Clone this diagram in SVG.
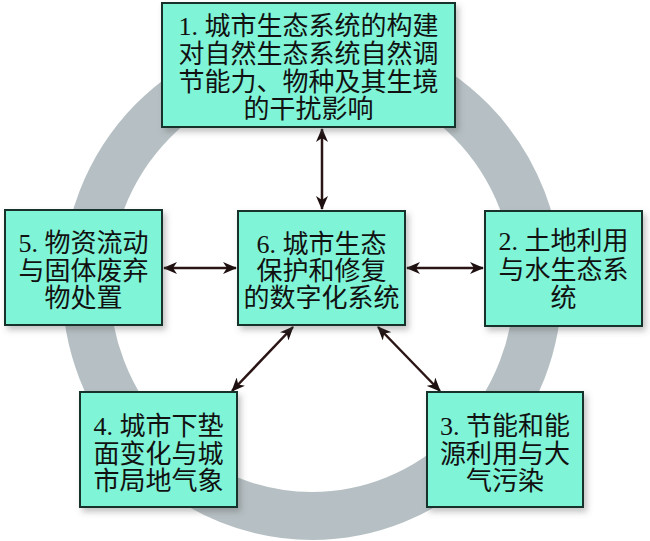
<svg xmlns="http://www.w3.org/2000/svg" width="650" height="541" viewBox="0 0 650 541">
<defs>
<filter id="sh" x="-10%" y="-10%" width="130%" height="130%">
<feDropShadow dx="3" dy="4" stdDeviation="3" flood-color="#555" flood-opacity="0.35"/>
</filter>
<marker id="ah" viewBox="0 0 14 12" refX="13" refY="6" markerWidth="14" markerHeight="12" markerUnits="userSpaceOnUse" orient="auto-start-reverse">
<path d="M0,0 L14,6 L0,12 L4,6 z" fill="#1e1010"/>
</marker>
</defs>
<style>
.box{fill:#7ff4d6;stroke:#17332b;stroke-width:2;filter:url(#sh)}
.t{font-family:"Liberation Serif","Noto Sans CJK SC",serif;font-size:26px;fill:#111;text-anchor:middle}
.c{stroke:#2a1414;stroke-width:2.5;fill:none;marker-start:url(#ah);marker-end:url(#ah)}
</style>
<rect width="650" height="541" fill="#ffffff"/>
<ellipse cx="312" cy="285" rx="226" ry="231" fill="none" stroke="#b6c0c4" stroke-width="48"/>
<g id="connectors">
<line class="c" x1="322" y1="129" x2="322" y2="209"/>
<line class="c" x1="164" y1="268" x2="236" y2="268"/>
<line class="c" x1="407" y1="268" x2="483" y2="268"/>
<line class="c" x1="293" y1="327" x2="232" y2="391"/>
<line class="c" x1="378" y1="327" x2="440" y2="391"/>
</g>
<g id="node1">
<rect class="box" x="162" y="3" width="293" height="124"/>
<text class="t" x="308.5" y="35">1. 城市生态系统的构建</text>
<text class="t" x="308.5" y="63">对自然生态系统自然调</text>
<text class="t" x="308.5" y="91">节能力、物种及其生境</text>
<text class="t" x="308.5" y="118">的干扰影响</text>
</g>
<g id="node5">
<rect class="box" x="5" y="210" width="157" height="115"/>
<text class="t" x="83.5" y="252">5. 物资流动</text>
<text class="t" x="83.5" y="280">与固体废弃</text>
<text class="t" x="83.5" y="307">物处置</text>
</g>
<g id="node6">
<rect class="box" x="238" y="211" width="167" height="114"/>
<text class="t" x="321.5" y="253">6. 城市生态</text>
<text class="t" x="321.5" y="280">保护和修复</text>
<text class="t" x="321.5" y="307">的数字化系统</text>
</g>
<g id="node2">
<rect class="box" x="485" y="211" width="157" height="115"/>
<text class="t" x="563.5" y="250">2. 土地利用</text>
<text class="t" x="563.5" y="279">与水生态系</text>
<text class="t" x="563.5" y="307">统</text>
</g>
<g id="node4">
<rect class="box" x="80" y="392" width="157" height="115"/>
<text class="t" x="158.5" y="435">4. 城市下垫</text>
<text class="t" x="158.5" y="463">面变化与城</text>
<text class="t" x="158.5" y="490">市局地气象</text>
</g>
<g id="node3">
<rect class="box" x="427" y="392" width="156" height="115"/>
<text class="t" x="505" y="435">3. 节能和能</text>
<text class="t" x="505" y="463">源利用与大</text>
<text class="t" x="505" y="490">气污染</text>
</g>
</svg>
